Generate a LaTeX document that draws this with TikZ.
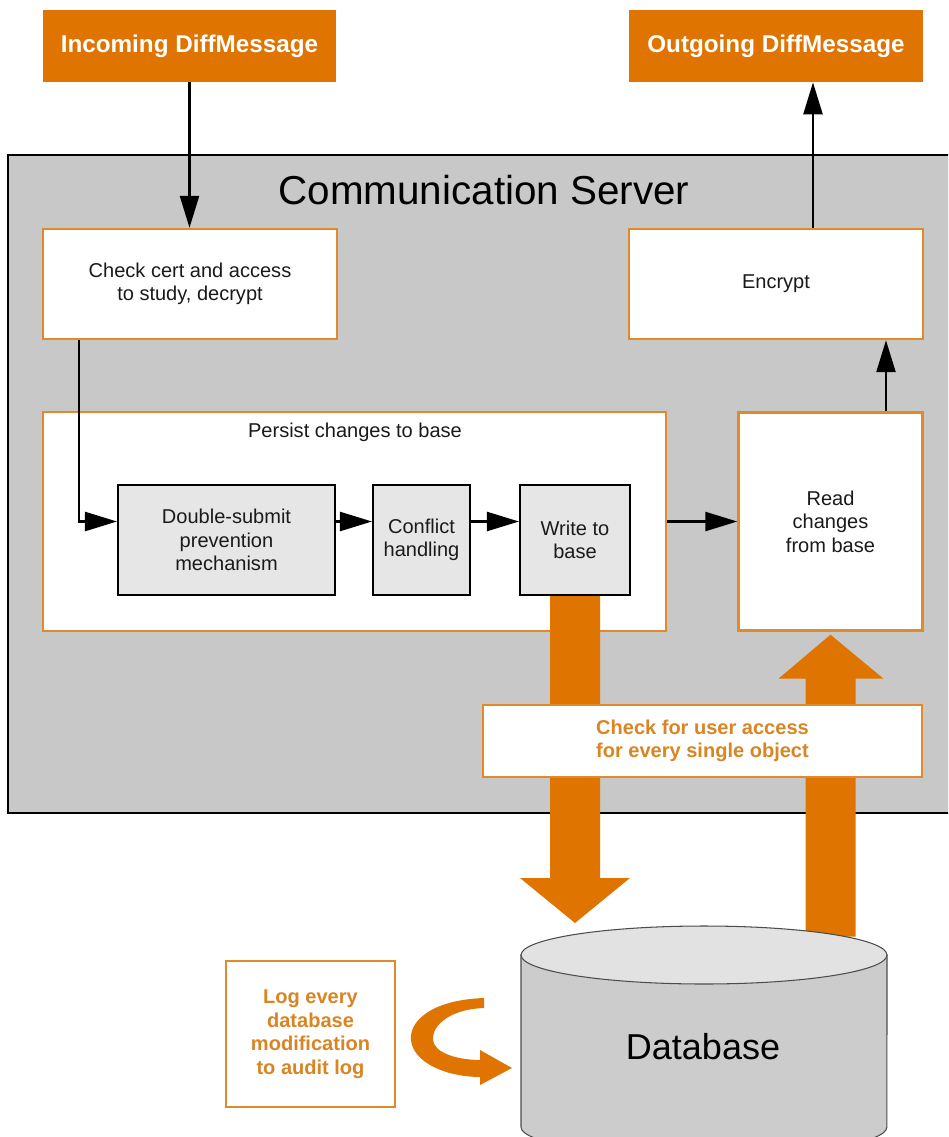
\documentclass[tikz,border=0pt]{standalone}
\usepackage{fontspec}
\setmainfont{Liberation Sans}
\usepackage{tikz}
\definecolor{csOrange}{HTML}{E07400}
\definecolor{csLine}{HTML}{E08A2C}
\definecolor{csText}{HTML}{D98523}
\definecolor{csGrey}{HTML}{C8C8C8}
\definecolor{csInner}{HTML}{E6E6E6}
\definecolor{csDbSide}{HTML}{CCCCCC}
\definecolor{csDbTop}{HTML}{E2E2E2}
\definecolor{csInk}{HTML}{1A1A1A}
\usetikzlibrary{arrows.meta,positioning,calc}

\begin{document}
\begin{tikzpicture}[
  x=0.02cm,y=-0.02cm,
  font=\fontsize{11.4}{13.4}\selectfont,
  srcbox/.style={fill=csOrange,text=white,font=\fontsize{13.8}{16}\selectfont\bfseries,
                 minimum width=5.88cm,minimum height=1.44cm,inner sep=0pt},
  server/.style={fill=csGrey,draw=black,line width=1.1pt,minimum width=19.04cm,
                 minimum height=13.16cm,inner sep=0pt},
  procbox/.style={fill=white,draw=csLine,line width=1.4pt,minimum width=5.88cm,
                  minimum height=2.2cm,align=center,text=csInk,inner sep=0pt},
  stepbox/.style={fill=csInner,draw=black,line width=1.2pt,minimum width=4.34cm,
                  minimum height=2.2cm,align=center,text=csInk,inner sep=0pt},
  notebox/.style={fill=white,draw=csLine,line width=1.4pt,align=center,text=csText,
                  font=\fontsize{11.4}{13.4}\selectfont\bfseries,inner sep=0pt},
  flow/.style={draw=black,line width=1.4pt,-{Triangle[length=0.64cm,width=0.38cm]}}
]
\clip (0,0) rectangle (948,1137);

\node[srcbox] (inc) at (189.5,46) {Incoming DiffMessage};
\node[srcbox] (out) at (776,46) {Outgoing DiffMessage};

\node[server] (server) at (484,484) {};
\node[text=black,font=\fontsize{23}{27}\selectfont] (title) at (484,190) {Communication Server};

\node[procbox] (check) at (190,284) {Check cert and access\\to study, decrypt};
\node[procbox] (encrypt) at (776,284) {Encrypt};
\node[procbox,minimum width=12.46cm,minimum height=4.38cm] (persist) at (354.5,521.5) {};
\node[text=csInk] (persisttitle) at (355,432) {Persist changes to base};
\node[stepbox] (dsp) at (226.5,540) {Double-submit\\prevention\\mechanism};
\node[stepbox,minimum width=1.94cm] (conf) at (421.5,540) {Conflict\\handling};
\node[stepbox,minimum width=2.2cm] (wrt) at (575,540) {Write to\\base};
\node[procbox,minimum width=3.68cm,minimum height=4.36cm] (read) at (830.5,521.5) {Read\\changes\\from base};

\draw[flow] (inc.south) -- (inc.south |- check.north);
\draw[flow] ([xshift=0.74cm]check.south west) |- (dsp.west |- persist.east);
\draw[flow] (dsp.east |- persist.east) -- (conf.west |- persist.east);
\draw[flow] (conf.east |- persist.east) -- (wrt.west |- persist.east);
\draw[flow] (persist.east) -- (read.west);
\draw[flow] ([xshift=1.11cm]read.north) -- ([xshift=1.11cm]read.north |- encrypt.south);
\draw[flow] ([xshift=0.74cm]encrypt.north) -- ([xshift=0.74cm]encrypt.north |- out.south);

% wide orange arrows to and from the database
\coordinate (dbtip) at (704,923);
\fill[csOrange] ($(wrt.south)+(-25,0)$) -- ($(wrt.south |- dbtip)+(-25,-45)$)
  -- ($(wrt.south |- dbtip)+(-55,-45)$) -- (wrt.south |- dbtip)
  -- ($(wrt.south |- dbtip)+(55,-45)$) -- ($(wrt.south |- dbtip)+(25,-45)$)
  -- ($(wrt.south)+(25,0)$) -- cycle;
\fill[csOrange] ($(read.south)+(-25,305)$) -- ($(read.south)+(-25,47)$)
  -- ($(read.south)+(-52,47)$) -- ($(read.south)+(0,3)$)
  -- ($(read.south)+(53,47)$) -- ($(read.south)+(25,47)$)
  -- ($(read.south)+(25,305)$) -- cycle;

\node[notebox,minimum width=8.78cm,minimum height=1.44cm] (access) at (702.5,741)
  {Check for user access\\for every single object};

% database cylinder
\filldraw[fill=csDbSide,draw=black!70,line width=0.6pt] (521,955) -- (521,1127)
  arc[start angle=180,end angle=360,x radius=3.66cm,y radius=0.58cm] -- (887,955) -- cycle;
\filldraw[fill=csDbTop,draw=black!70,line width=0.6pt] (704,955) ellipse[x radius=3.66cm,y radius=0.58cm];
\node[text=black,font=\fontsize{20.5}{24}\selectfont] (db) at (703,1047) {Database};

\node[notebox,minimum width=3.38cm,minimum height=2.92cm] (log) at (310.5,1034)
  {Log every\\database\\modification\\to audit log};
\fill[csOrange] (484,998) .. controls (430,1000) and (409,1022) .. (411,1040)
  .. controls (413,1062) and (445,1077) .. (481,1077) -- (481,1060)
  .. controls (455,1060) and (434,1052) .. (433,1040)
  .. controls (432,1024) and (452,1009) .. (484,1008) -- cycle;
\fill[csOrange] (480,1050) -- (512,1068) -- (480,1085) -- cycle;
\end{tikzpicture}
\end{document}
